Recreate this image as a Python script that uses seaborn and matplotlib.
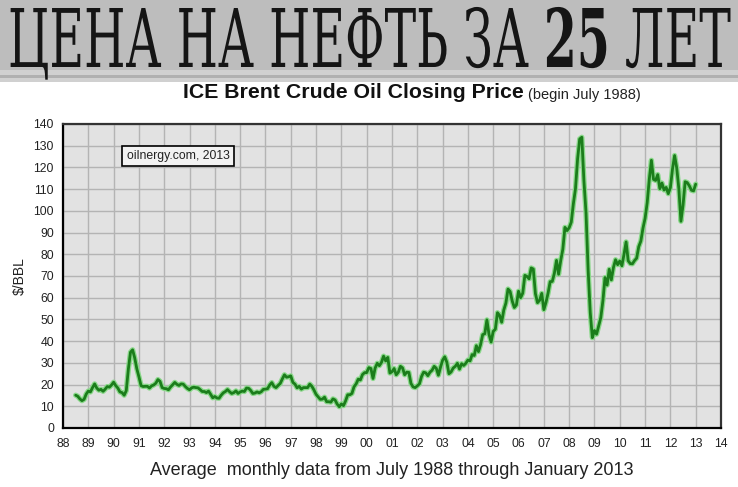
import matplotlib
matplotlib.use("Agg")
import matplotlib.pyplot as plt
from matplotlib.patches import Rectangle
from matplotlib.patheffects import AbstractPathEffect
from matplotlib.transforms import Affine2D
import seaborn as sns
import pandas as pd

# monthly Brent closing price averages, July 1988 .. January 2013 ($/bbl)
start_year = 1988
start_month = 7
brent = [
    15.1, 14.6, 13.4, 12.6, 13.2, 15.6,                                     # 1988 Jul-Dec
    17.0, 16.6, 18.6, 20.3, 18.4, 17.4, 17.8, 16.9, 17.9, 19.1, 18.8, 19.8,  # 1989
    21.1, 19.5, 18.4, 16.6, 16.3, 15.1, 17.2, 27.2, 34.9, 36.0, 32.3, 27.3,  # 1990
    23.6, 19.5, 19.1, 19.2, 19.2, 18.4, 19.4, 19.8, 20.6, 22.3, 21.5, 18.6,  # 1991
    18.2, 18.1, 17.6, 18.9, 19.9, 21.0, 20.1, 19.6, 20.3, 20.2, 19.1, 18.2,  # 1992
    17.6, 18.5, 18.8, 18.6, 18.5, 17.7, 16.8, 16.8, 16.3, 17.0, 15.5, 13.9,  # 1993
    14.5, 13.8, 13.7, 15.1, 16.2, 16.8, 17.7, 16.7, 15.9, 16.3, 17.1, 15.9,  # 1994
    16.6, 17.0, 16.8, 18.4, 18.3, 17.3, 15.9, 16.1, 16.6, 16.2, 16.7, 17.8,  # 1995
    17.9, 18.1, 19.8, 20.9, 19.2, 18.6, 19.6, 20.5, 22.6, 24.5, 23.4, 23.6,  # 1996
    24.0, 21.0, 20.2, 18.5, 19.2, 17.9, 18.6, 18.6, 18.6, 20.2, 19.2, 17.5,  # 1997
    15.5, 14.3, 13.2, 13.3, 14.2, 12.1, 12.1, 11.9, 13.4, 12.9, 11.0, 9.8,   # 1998
    11.1, 10.3, 12.5, 15.3, 15.3, 15.9, 19.0, 20.3, 22.5, 22.1, 24.6, 25.5,  # 1999
    25.5, 27.8, 27.4, 22.8, 27.6, 29.8, 28.7, 30.2, 33.1, 30.9, 32.5, 25.3,  # 2000
    25.9, 27.4, 24.5, 25.7, 28.4, 27.7, 24.5, 25.7, 25.6, 20.5, 18.9, 18.6,  # 2001
    19.4, 20.3, 23.7, 25.7, 25.4, 24.1, 25.7, 26.6, 28.4, 27.5, 24.3, 28.0,  # 2002
    31.2, 32.8, 30.3, 25.0, 25.8, 27.6, 28.4, 29.8, 27.1, 29.6, 28.8, 29.8,  # 2003
    31.3, 30.9, 33.8, 33.4, 37.9, 35.2, 38.4, 43.0, 43.4, 49.8, 43.1, 39.6,  # 2004
    44.5, 45.5, 53.1, 51.9, 48.7, 54.3, 57.5, 64.0, 62.9, 58.5, 55.5, 56.7,  # 2005
    63.0, 60.0, 62.1, 70.3, 69.8, 68.7, 73.7, 73.2, 61.9, 57.7, 58.8, 62.0,  # 2006
    54.5, 57.8, 62.1, 67.4, 67.5, 71.3, 77.2, 70.8, 77.1, 82.3, 92.4, 90.9,  # 2007
    92.2, 94.8, 103.3, 110.2, 123.9, 133.1, 133.9, 113.9, 99.1, 72.8, 53.2, 41.6,  # 2008
    44.9, 43.2, 47.0, 50.8, 58.6, 69.3, 65.8, 73.1, 68.2, 73.9, 77.5, 75.2,  # 2009
    76.9, 74.7, 79.9, 85.7, 77.0, 75.7, 75.6, 77.1, 78.2, 83.5, 86.1, 92.0,  # 2010
    96.5, 103.7, 114.6, 123.3, 114.5, 114.0, 116.7, 110.2, 112.8, 109.6, 110.8, 107.9,  # 2011
    110.7, 119.3, 125.5, 119.8, 110.3, 95.2, 102.6, 113.4, 113.0, 111.5, 109.5, 109.2,  # 2012
    112.3,                                                                  # 2013 Jan
]

year_ticks = list(range(1988, 2015))
year_labels = [f"{y % 100:02d}" for y in year_ticks]
price_ticks = list(range(0, 141, 10))

header_parts = ["ЦЕНА НА НЕФТЬ ЗА ", "25", " ЛЕТ"]
header_weights = ["normal", "bold", "normal"]

months = [start_month - 1 + i for i in range(len(brent))]
df = pd.DataFrame({
    "year": [start_year + m / 12 for m in months],
    "price": brent,
})


class VStretch(AbstractPathEffect):
    """Stretch glyphs vertically around a display y (condensed look)."""

    def __init__(self, sy, y0):
        super().__init__()
        self.sy = sy
        self.y0 = y0

    def draw_path(self, renderer, gc, tpath, affine, rgbFace=None):
        st = Affine2D().translate(0, -self.y0).scale(1, self.sy).translate(0, self.y0)
        renderer.draw_path(gc, tpath, affine + st, rgbFace)


sns.set_style("whitegrid", {
    "axes.facecolor": "#e2e2e2",
    "grid.color": "#b4b4b4",
    "axes.edgecolor": "#222222",
})
plt.rcParams["font.family"] = ["Liberation Sans", "DejaVu Sans"]

W, H = 738, 487
fig = plt.figure(figsize=(W / 100, H / 100), dpi=100)
fig.patch.set_facecolor("white")

# grey header band
fig.patches.append(Rectangle((0, 1 - 70 / H), 1, 70 / H, transform=fig.transFigure,
                             facecolor="#bdbdbd", edgecolor="none", zorder=0))
fig.patches.append(Rectangle((0, 1 - 82 / H), 1, 12 / H, transform=fig.transFigure,
                             facecolor="#d0d0d0", edgecolor="none", zorder=0))
fig.patches.append(Rectangle((0, 1 - 78 / H), 1, 3 / H, transform=fig.transFigure,
                             facecolor="#b0b0b0", edgecolor="none", zorder=0))

# header, built from parts so "25" can be bold, then fitted to the band
base = 40
baseline = 67  # px from top
head_y = 1 - baseline / H
heads = []
for part, wt in zip(header_parts, header_weights):
    heads.append(fig.text(0, head_y, part, ha="left", va="baseline",
                          family=["DejaVu Serif", "Liberation Serif"],
                          fontsize=base, fontweight=wt, color="#151515"))
fig.canvas.draw()
total = sum(t.get_window_extent().width for t in heads)
size = base * 722 / total
for t in heads:
    t.set_fontsize(size)
fig.canvas.draw()
x = 8
cap_px = 0.729 * size * 100 / 72
sy = 59 / cap_px
for t in heads:
    t.set_x(x / W)
    x += t.get_window_extent().width
    t.set_path_effects([VStretch(sy, head_y * H)])

fig.text(183 / W, 1 - 93 / H, "ICE Brent Crude Oil Closing Price", ha="left", va="center",
         fontsize=15.3, fontweight="bold", color="#111111")
fig.text(528 / W, 1 - 95 / H, "(begin July 1988)", ha="left", va="center",
         fontsize=10.5, color="#222222")

ax = fig.add_axes([63 / W, 1 - 428 / H, (721 - 63) / W, (428 - 124) / H])

sns.lineplot(data=df, x="year", y="price", ax=ax, color="#8ad88a", linewidth=3.8)
sns.lineplot(data=df, x="year", y="price", ax=ax, color="#1b7d1b", linewidth=2.0)

ax.set_xlim(1988, 2014)
ax.set_ylim(0, 140)
ax.set_xticks(year_ticks)
ax.set_xticklabels(year_labels)
ax.set_yticks(price_ticks)
ax.tick_params(axis="both", direction="inout", length=7, width=1.3, color="black",
               labelsize=8.8, labelcolor="#222222", pad=3)
ax.tick_params(axis="x", pad=4)
ax.grid(True, color="#b4b4b4", linewidth=1.0)
for side in ["left", "bottom"]:
    ax.spines[side].set_color("black")
    ax.spines[side].set_linewidth(1.6)
for side in ["top", "right"]:
    ax.spines[side].set_color("#333333")
    ax.spines[side].set_linewidth(1.6)

ax.set_xlabel("Average  monthly data from July 1988 through January 2013", fontsize=13,
              color="#222222", labelpad=8)
ax.set_ylabel("$/BBL", fontsize=10, color="#222222", labelpad=5)

ax.text(1990.55 + 2, 125.3, "oilnergy.com, 2013", ha="center", va="center", fontsize=8.8,
        color="#222222",
        bbox=dict(boxstyle="square,pad=0.35", facecolor="#f2f2f2", edgecolor="black",
                  linewidth=1.2))

fig.savefig("out.png", dpi=100)
